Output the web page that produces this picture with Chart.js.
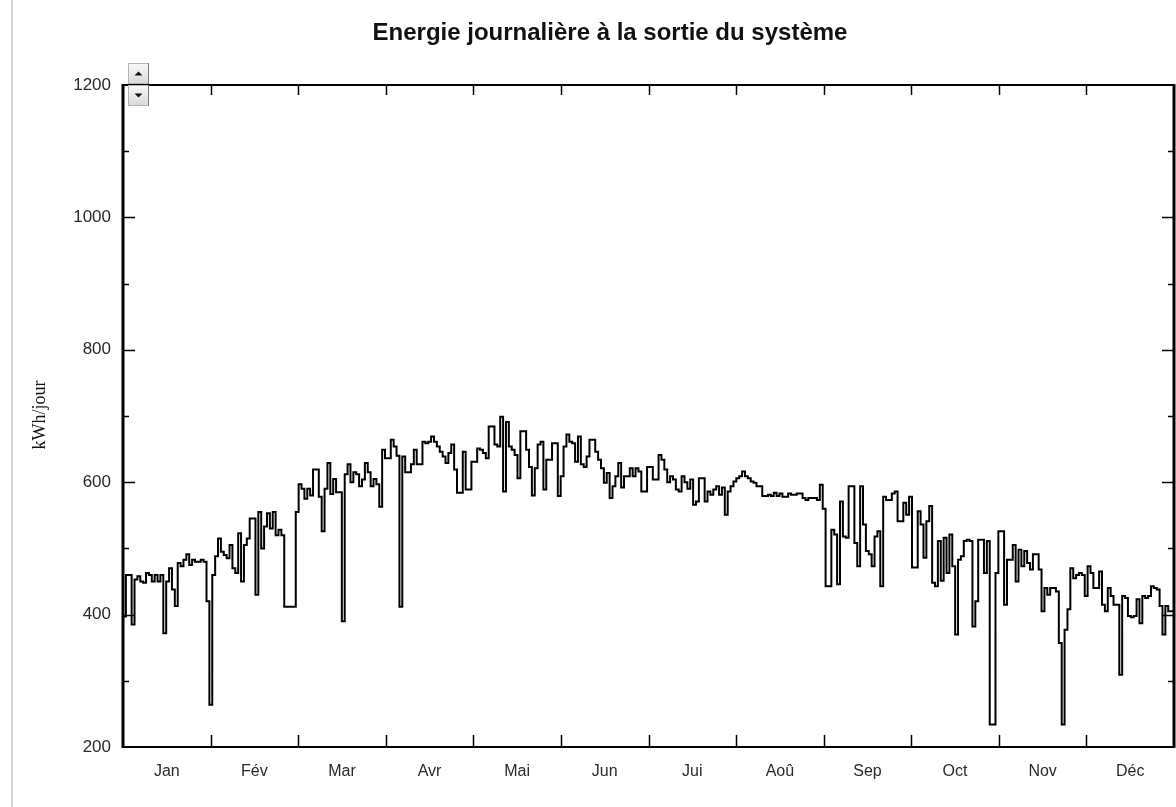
<!DOCTYPE html>
<html lang="fr">
<head>
<meta charset="UTF-8">
<title>Energie journalière à la sortie du système</title>
<script src="https://cdn.jsdelivr.net/npm/chart.js"></script>
<style>
  html, body { margin: 0; padding: 0; background: #fff; }
  #cadre { position: relative; width: 1176px; height: 807px; }
</style>
</head>
<body>
<div id="cadre"><canvas id="graphe" width="1176" height="807"></canvas></div>
<script>
  // Energie produite par jour (kWh/jour), un tableau par mois
  const mois = ["Jan", "Fév", "Mar", "Avr", "Mai", "Jun", "Jui", "Aoû", "Sep", "Oct", "Nov", "Déc"];

  const janvier = [428, 397, 460, 460, 385, 453, 458, 450, 448, 463, 460, 450, 460, 450, 460, 372, 450, 470, 438, 413, 478, 473, 483, 491, 475, 483, 480, 480, 483, 480, 420];
  const fevrier = [264, 460, 488, 515, 495, 490, 485, 505, 470, 463, 523, 450, 505, 515, 545, 545, 430, 555, 500, 533, 553, 530, 555, 520, 528, 520, 412, 412];
  const mars = [412, 412, 555, 597, 590, 575, 590, 580, 619, 619, 578, 526, 590, 629, 582, 605, 585, 585, 390, 612, 627, 600, 615, 612, 594, 604, 629, 615, 594, 605, 597];
  const avril = [563, 649, 636, 636, 664, 654, 640, 412, 639, 615, 615, 627, 649, 627, 627, 661, 659, 661, 669, 661, 654, 646, 639, 629, 644, 657, 619, 584, 584, 646];
  const mai = [589, 589, 631, 631, 651, 649, 644, 636, 684, 684, 657, 654, 699, 586, 691, 654, 649, 641, 606, 677, 677, 649, 623, 580, 621, 657, 661, 589, 634, 634, 659];
  const juin = [659, 579, 609, 654, 672, 661, 659, 631, 669, 627, 623, 639, 664, 664, 646, 634, 621, 599, 614, 576, 594, 609, 629, 592, 609, 609, 621, 609, 621, 616];
  const juillet = [586, 586, 623, 623, 604, 604, 641, 634, 619, 600, 609, 604, 589, 586, 609, 600, 590, 604, 566, 571, 606, 606, 571, 586, 581, 589, 594, 581, 592, 551, 586];
  const aout = [594, 601, 606, 609, 616, 609, 606, 601, 599, 594, 594, 579, 579, 581, 579, 584, 579, 583, 578, 578, 583, 581, 581, 583, 583, 576, 573, 576, 576, 576, 573];
  const septembre = [596, 560, 443, 443, 528, 521, 446, 571, 518, 516, 594, 594, 508, 473, 594, 536, 496, 491, 473, 518, 526, 443, 578, 573, 573, 583, 586, 541, 541, 569];
  const octobre = [551, 578, 471, 471, 556, 536, 486, 541, 564, 448, 443, 511, 451, 516, 463, 521, 473, 370, 483, 488, 511, 513, 511, 382, 420, 513, 513, 463, 511, 234, 234];
  const novembre = [463, 526, 526, 415, 483, 483, 505, 450, 498, 473, 496, 478, 468, 491, 491, 468, 405, 440, 430, 440, 440, 435, 357, 234, 377, 408, 470, 455, 460, 463];
  const decembre = [460, 428, 473, 463, 440, 440, 465, 415, 405, 440, 428, 415, 415, 309, 428, 425, 398, 396, 398, 423, 387, 428, 425, 428, 443, 440, 438, 413, 370, 413, 405];

  const annee = [].concat(janvier, fevrier, mars, avril, mai, juin, juillet, aout, septembre, octobre, novembre, decembre);
  const JOURS = annee.length;

  // un palier par jour : point au début du jour, dernier point pour fermer le 31/12
  const points = annee.map((v, i) => ({ x: i, y: v }));
  points.push({ x: JOURS, y: annee[JOURS - 1] });

  const police = "'Liberation Sans', Arial, sans-serif";

  function bouton(ctx, x, y, w, h, haut) {
    const g = ctx.createLinearGradient(0, y, 0, y + h);
    g.addColorStop(0, "#fafafa");
    g.addColorStop(1, "#d8d8d8");
    ctx.fillStyle = g;
    ctx.fillRect(x, y, w, h);
    ctx.strokeStyle = "#b4b4b4";
    ctx.lineWidth = 1;
    ctx.strokeRect(x + 0.5, y + 0.5, w - 1, h - 1);
    ctx.strokeStyle = "#7a7a7a";
    ctx.beginPath();
    ctx.moveTo(x + w - 0.5, y);
    ctx.lineTo(x + w - 0.5, y + h);
    ctx.stroke();
    const cx = x + w / 2, cy = y + h / 2;
    ctx.fillStyle = "#111";
    ctx.beginPath();
    if (haut) {
      ctx.moveTo(cx - 4, cy + 2); ctx.lineTo(cx + 4, cy + 2); ctx.lineTo(cx, cy - 2);
    } else {
      ctx.moveTo(cx - 4, cy - 2); ctx.lineTo(cx + 4, cy - 2); ctx.lineTo(cx, cy + 2);
    }
    ctx.closePath();
    ctx.fill();
  }

  // cadre, graduations intérieures, titre et légende de l'axe
  const habillage = {
    id: "habillage",
    afterDraw(chart) {
      const ctx = chart.ctx;
      const { left, right, top, bottom } = chart.chartArea;
      const sx = chart.scales.x, sy = chart.scales.y;
      ctx.save();

      ctx.strokeStyle = "#d6d6d6";
      ctx.lineWidth = 2;
      ctx.beginPath();
      ctx.moveTo(12, 0);
      ctx.lineTo(12, chart.height);
      ctx.stroke();

      ctx.strokeStyle = "#000";
      ctx.lineWidth = 2;
      ctx.strokeRect(left, top, right - left, bottom - top);
      ctx.lineWidth = 3;
      ctx.beginPath();
      ctx.moveTo(left, top - 1); ctx.lineTo(left, bottom + 1);
      ctx.moveTo(right, top - 1); ctx.lineTo(right, bottom + 1);
      ctx.stroke();

      ctx.lineWidth = 1.5;
      ctx.beginPath();
      for (let v = 300; v < 1200; v += 100) {
        const y = Math.round(sy.getPixelForValue(v)) + 0.5;
        const l = v % 200 === 0 ? 12 : 6;
        ctx.moveTo(left, y); ctx.lineTo(left + l, y);
        ctx.moveTo(right, y); ctx.lineTo(right - l, y);
      }
      for (let k = 1; k < 12; k++) {
        const x = Math.round(sx.getPixelForValue(k * JOURS / 12)) + 0.5;
        ctx.moveTo(x, bottom); ctx.lineTo(x, bottom - 12);
        ctx.moveTo(x, top); ctx.lineTo(x, top + 10);
      }
      ctx.stroke();

      bouton(ctx, 128, 63, 21, 21, true);
      bouton(ctx, 128, 85, 21, 21, false);

      ctx.fillStyle = "#111";
      ctx.font = "bold 24px " + police;
      ctx.textAlign = "center";
      ctx.textBaseline = "middle";
      ctx.fillText("Energie journalière à la sortie du système", 610, 33);

      ctx.translate(40, 415);
      ctx.rotate(-Math.PI / 2);
      ctx.font = "18px 'Liberation Serif', 'Times New Roman', serif";
      ctx.fillText("kWh/jour", 0, 0);
      ctx.restore();
    }
  };

  new Chart(document.getElementById("graphe"), {
    type: "line",
    data: {
      datasets: [{
        data: points,
        stepped: "after",
        borderColor: "#000",
        borderWidth: 2,
        pointRadius: 0,
        fill: false
      }]
    },
    options: {
      responsive: false,
      animation: false,
      devicePixelRatio: 1,
      layout: { padding: { top: 85, right: 2, bottom: 0, left: 0 } },
      plugins: {
        legend: { display: false },
        tooltip: { enabled: false }
      },
      scales: {
        x: {
          type: "linear",
          min: 0,
          max: JOURS,
          grid: { display: false, drawTicks: false },
          border: { display: false },
          afterBuildTicks: s => {
            s.ticks = mois.map((m, i) => ({ value: (i + 0.5) * JOURS / 12 }));
          },
          afterFit: s => { s.height = 60; },
          ticks: {
            autoSkip: false,
            maxRotation: 0,
            padding: 15,
            color: "#2a2a2a",
            font: { family: police, size: 16 },
            callback: (v, i) => mois[i]
          }
        },
        y: {
          min: 200,
          max: 1200,
          grid: { display: false, drawTicks: false },
          border: { display: false },
          afterFit: s => { s.width = 123; },
          ticks: {
            stepSize: 200,
            padding: 12,
            color: "#2a2a2a",
            font: { family: police, size: 17 },
            callback: v => String(v)
          }
        }
      }
    },
    plugins: [habillage]
  });
</script>
</body>
</html>
